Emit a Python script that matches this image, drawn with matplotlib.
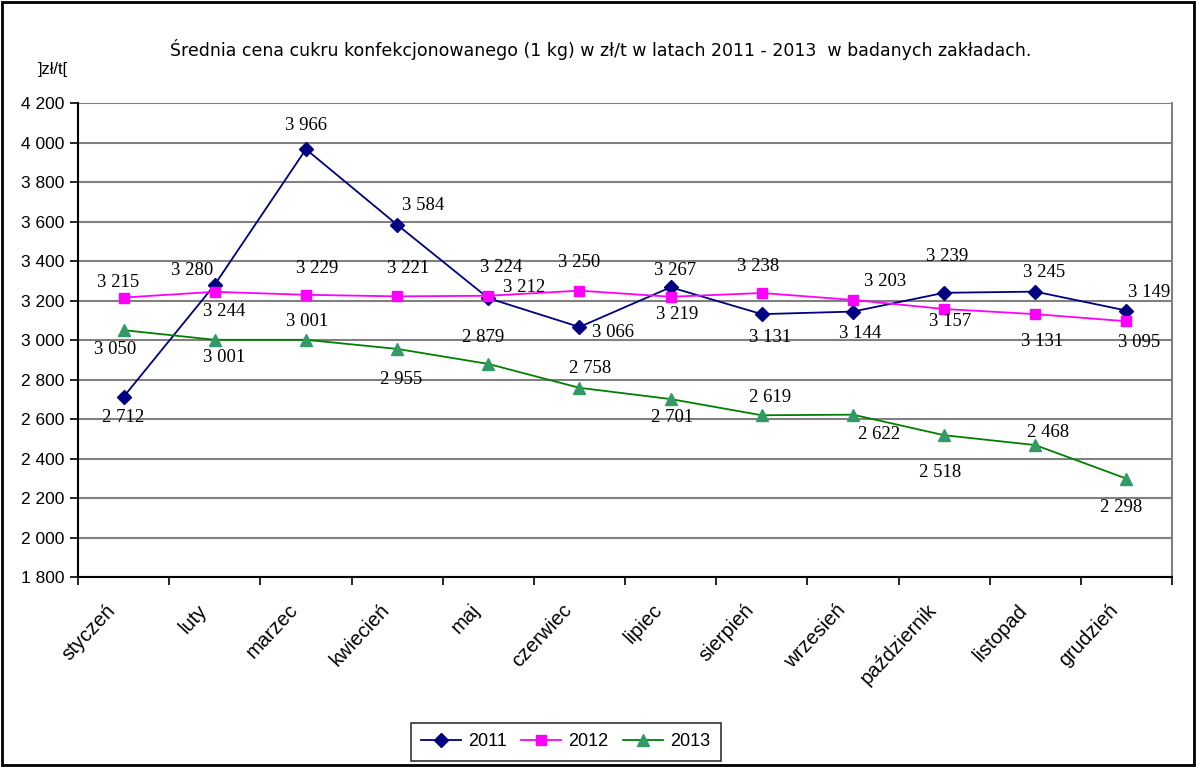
import numpy as np
import matplotlib
matplotlib.use("Agg")
import matplotlib.pyplot as plt
import matplotlib.transforms as mtransforms
from matplotlib.ticker import FuncFormatter, MultipleLocator

months = ["styczeń", "luty", "marzec", "kwiecień", "maj", "czerwiec",
          "lipiec", "sierpień", "wrzesień", "październik", "listopad", "grudzień"]

y2011 = [2712, 3280, 3966, 3584, 3212, 3066, 3267, 3131, 3144, 3239, 3245, 3149]
y2012 = [3215, 3244, 3229, 3221, 3224, 3250, 3219, 3238, 3203, 3157, 3131, 3095]
y2013 = [3050, 3001, 3001, 2955, 2879, 2758, 2701, 2619, 2622, 2518, 2468, 2298]

# label offsets in points (placement only)
off2011 = [(0, -15), (-16, 10), (0, 17), (19, 14), (26, 8), (24, -4),
           (3, 12), (6, -17), (5, -16), (2, 26), (6, 14), (16, 13)]
off2012 = [(-4, 11), (7, -14), (8, 19), (8, 20), (9, 20), (0, 20),
           (5, -13), (-3, 19), (23, 13), (4, -9), (5, -20), (9, -15)]
off2013 = [(-6, -14), (7, -13), (1, 13), (3, -22), (-4, 19), (8, 14),
           (1, -13), (6, 13), (19, -14), (-3, -27), (9, 9), (-4, -21)]

fmt = lambda v: f"{v:,.0f}".replace(",", " ")

fig = plt.figure(figsize=(11.96, 7.67), dpi=100)
ax = fig.add_axes([0.0652, 0.2477, 0.9148, 0.618])

x = np.arange(len(months))
series = [
    ("2011", y2011, off2011, "#000080", "#000080", "D", 7),
    ("2012", y2012, off2012, "#FF00FF", "#FF00FF", "s", 7),
    ("2013", y2013, off2013, "#008000", "#339966", "^", 9),
]
for name, vals, offs, lc, mc, mk, ms in series:
    ax.plot(x, vals, color=lc, lw=1.3, marker=mk, ms=ms,
            markerfacecolor=mc, markeredgecolor=mc, label=name, zorder=3)
    for xi, v, o in zip(x, vals, offs):
        ax.annotate(fmt(v), (xi, v), xytext=o, textcoords="offset points",
                    ha="center", va="center", fontsize=13.5,
                    family="Liberation Serif", zorder=4)

ax.set_xlim(-0.5, len(months) - 0.5)
ax.set_ylim(1800, 4200)
ax.yaxis.set_major_locator(MultipleLocator(200))
ax.yaxis.set_major_formatter(FuncFormatter(lambda v, p: fmt(v)))
ax.grid(axis="y", color="#808080", lw=1.5)
ax.set_axisbelow(True)

ax.set_xticks(x)
ax.set_xticklabels(months, rotation=47, ha="right", va="top",
                   rotation_mode="anchor", family="Liberation Sans", fontsize=14.5)
ax.tick_params(axis="x", length=0, pad=17)
shift = mtransforms.ScaledTranslation(-18 / 100, 0, fig.dpi_scale_trans)
for lab in ax.get_xticklabels():
    lab.set_transform(lab.get_transform() + shift)
ax.set_xticks(np.arange(-0.5, len(months)), minor=True)
ax.tick_params(axis="x", which="minor", length=6, width=1.2, direction="out")
ax.tick_params(axis="y", length=6, width=1.2, direction="out", labelsize=12.5)
for lab in ax.get_yticklabels():
    lab.set_family("Liberation Sans")

for s in ["left", "bottom"]:
    ax.spines[s].set_color("black")
    ax.spines[s].set_linewidth(1.5)
ax.spines["right"].set_color("#808080")
ax.spines["right"].set_linewidth(1.5)
ax.spines["top"].set_visible(False)

fig.text(0.5025, 0.935, "Średnia cena cukru konfekcjonowanego (1 kg) w zł/t w latach 2011 - 2013  w badanych zakładach.",
         ha="center", va="center", fontsize=12.5, family="DejaVu Sans")
fig.text(0.044, 0.909, "]zł/t[", ha="center", va="center", fontsize=12,
         family="Liberation Sans")

leg = fig.legend(loc="center", bbox_to_anchor=(0.473, 0.0326), ncol=3,
                 frameon=True, fancybox=False, prop={"family": "Liberation Sans", "size": 13},
                 handlelength=2.2, handletextpad=0.4, columnspacing=0.8,
                 borderpad=0.6)
leg.get_frame().set_edgecolor("black")
leg.get_frame().set_linewidth(1.2)

fig.patches.append(plt.Rectangle((0.002, 0.003), 0.996, 0.994, transform=fig.transFigure,
                                 fill=False, edgecolor="black", lw=2))

fig.savefig("out.png", dpi=100)
